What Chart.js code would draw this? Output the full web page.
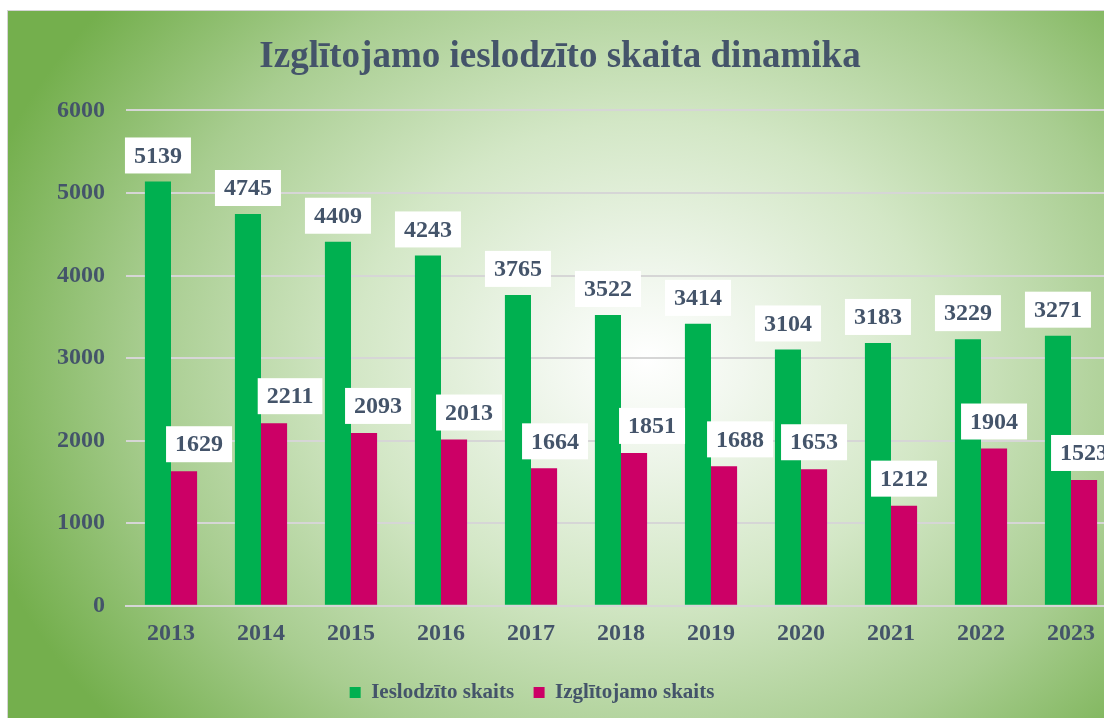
<!DOCTYPE html>
<html lang="lv">
<head>
<meta charset="utf-8">
<title>Izglītojamo ieslodzīto skaita dinamika</title>
<script src="https://cdn.jsdelivr.net/npm/chart.js"></script>
<style>
    html, body {
        margin: 0;
        padding: 0;
        width: 1104px;
        height: 718px;
        overflow: hidden;
        background: #ffffff;
    }

    .moldura {
        position: absolute;
        left: 7px;
        top: 10px;
        width: 1120px;
        height: 726px;
        border: 1px solid #d4d4d4;
        background: radial-gradient(ellipse 62% 78% at 57% 48%, #ffffff 0%, #f1f7ee 14%, #d3e7c6 42%, #a8cd90 72%, #74af4d 100%);
    }

    canvas {
        display: block;
    }
</style>
</head>
<body>
<div class="moldura">
    <canvas id="dinamika" width="1120" height="702"></canvas>
</div>

<script>
    // Dados
    const anos = ['2013', '2014', '2015', '2016', '2017', '2018', '2019', '2020', '2021', '2022', '2023'];
    const ieslodzito = [5139, 4745, 4409, 4243, 3765, 3522, 3414, 3104, 3183, 3229, 3271];
    const izglitojamo = [1629, 2211, 2093, 2013, 1664, 1851, 1688, 1653, 1212, 1904, 1523];
    const marcasY = [0, 1000, 2000, 3000, 4000, 5000, 6000];

    // deslocamento horizontal dos rótulos rosa (foram arrastados no original)
    const deslocRotulos = [15, 16, 14, 15, 11, 18, 16, 0, 0, 0, 0];

    const corTexto = '#44546A';
    const fonte = '"Liberation Serif", "Times New Roman", serif';

    Chart.defaults.font.family = fonte;
    Chart.defaults.font.weight = 'bold';
    Chart.defaults.color = corTexto;

    // Rótulos de dados com caixa branca
    const rotulosPlugin = {
        id: 'rotulos',
        afterDatasetsDraw(chart) {
            const ctx = chart.ctx;
            ctx.save();
            ctx.font = `bold 24px ${fonte}`;
            ctx.textAlign = 'center';
            ctx.textBaseline = 'middle';

            chart.data.datasets.forEach(function (ds, i) {
                let meta = chart.getDatasetMeta(i);
                meta.data.forEach(function (barra, j) {
                    let texto = String(ds.data[j]);
                    let largura = ctx.measureText(texto).width + 18;
                    let altura = 36;
                    let x = barra.x + (i == 1 ? deslocRotulos[j] : 0);
                    let base = barra.y - (i == 1 ? 9 : 8);

                    ctx.fillStyle = '#ffffff';
                    ctx.fillRect(x - largura / 2, base - altura, largura, altura);
                    ctx.fillStyle = corTexto;
                    ctx.fillText(texto, x, base - altura / 2 + 1);
                });
            });
            ctx.restore();
        }
    };

    // Título e legenda não estão centrados no original
    const posicaoPlugin = {
        id: 'posicao',
        afterLayout(chart) {
            chart.titleBlock.left -= 2;
            chart.titleBlock.right -= 2;
            chart.legend.left -= 30;
            chart.legend.right -= 30;
        }
    };

    let dados = {
        labels: anos,
        datasets: [{
            label: 'Ieslodzīto skaits',
            data: ieslodzito,
            backgroundColor: '#00B050',
            borderWidth: 0,
        },
        {
            label: 'Izglītojamo skaits',
            data: izglitojamo,
            backgroundColor: '#CC0066',
            borderWidth: 0,
        }]
    };

    const config = {
        type: 'bar',
        data: dados,
        options: {
            responsive: false,
            animation: false,
            devicePixelRatio: 1,
            categoryPercentage: 0.58,
            barPercentage: 1,
            layout: {
                padding: { left: 0, right: 12, top: 0, bottom: 0 }
            },
            plugins: {
                title: {
                    display: true,
                    text: 'Izglītojamo ieslodzīto skaita dinamika',
                    color: corTexto,
                    font: { size: 37, weight: 'bold' },
                    padding: { top: 24, bottom: 31 }
                },
                legend: {
                    position: 'bottom',
                    labels: {
                        color: corTexto,
                        font: { size: 21, weight: 'bold' },
                        boxWidth: 11,
                        boxHeight: 11,
                        padding: 19.5
                    }
                },
                tooltip: { enabled: false }
            },
            scales: {
                x: {
                    grid: { display: false, drawTicks: false },
                    border: { color: '#d6d6d6', width: 2 },
                    ticks: {
                        color: corTexto,
                        font: { size: 24, weight: 'bold' },
                        padding: 14
                    }
                },
                y: {
                    min: 0,
                    max: 6000,
                    afterBuildTicks: function (escala) {
                        escala.ticks = marcasY.map(function (v) { return { value: v }; });
                    },
                    afterFit: function (escala) {
                        escala.width = 118;
                    },
                    grid: { color: '#d6d6d6', lineWidth: 2, drawTicks: false },
                    border: { display: false },
                    ticks: {
                        color: corTexto,
                        font: { size: 24, weight: 'bold' },
                        padding: 21,
                        callback: function (valor) { return String(valor); }
                    }
                }
            }
        },
        plugins: [rotulosPlugin, posicaoPlugin]
    };

    let grafico = new Chart(
        document.getElementById('dinamika'),
        config
    );
</script>
</body>
</html>
